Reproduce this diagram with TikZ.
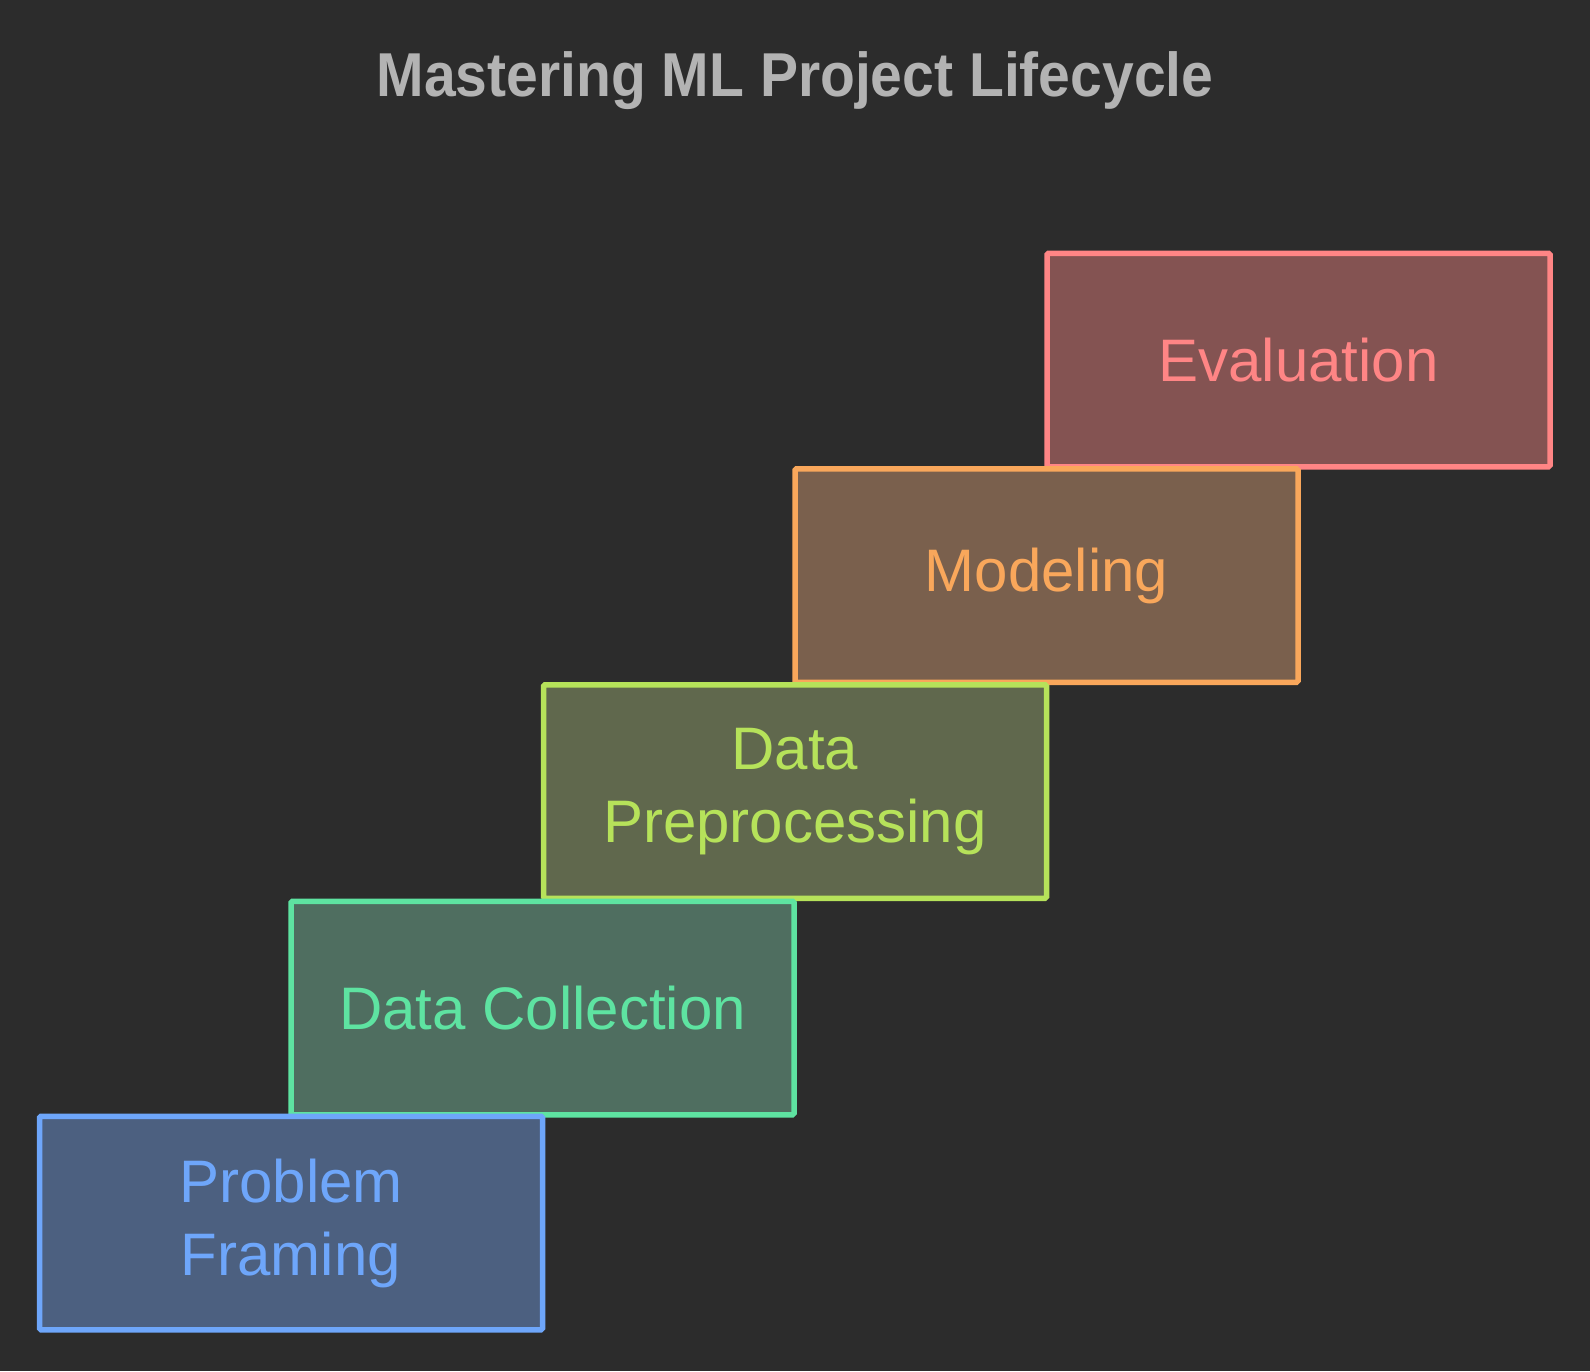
\documentclass[tikz,border=0pt]{standalone}
\usepackage{fontspec}
\setmainfont{Liberation Sans}
\definecolor{bg}{HTML}{2C2C2C}
\definecolor{titlec}{HTML}{B3B3B3}
\definecolor{pfline}{HTML}{6EA6FA}
\definecolor{pffill}{HTML}{4C6080}
\definecolor{dcline}{HTML}{5EE3A1}
\definecolor{dcfill}{HTML}{4F6E60}
\definecolor{dpline}{HTML}{B6E25A}
\definecolor{dpfill}{HTML}{60684D}
\definecolor{mline}{HTML}{F9A75B}
\definecolor{mfill}{HTML}{7A604D}
\definecolor{eline}{HTML}{FF8585}
\definecolor{efill}{HTML}{845352}
\begin{document}
\begin{tikzpicture}[x=1pt,y=-1pt,
  stage/.style={draw, line width=5.5pt, minimum width=503pt, minimum height=213.5pt,
    inner sep=0pt, align=center, font=\fontsize{60}{73}\selectfont, rounded corners=1.5pt}]
\fill[bg] (0,0) rectangle (1590,1371);
\useasboundingbox (0,0) rectangle (1590,1371);
\node[font=\bfseries\fontsize{62}{72}\selectfont, text=titlec, anchor=base] (title) at (795,96)
  {\scalebox{0.92}[1]{Mastering ML Project Lifecycle}};
\node[stage, draw=eline, fill=efill, text=eline] (ev) at (1298.5,360) {Evaluation};
\node[stage, draw=mline, fill=mfill, text=mline] (mo) at (1046.5,575.5) {Modeling};
\node[stage, draw=dpline, fill=dpfill, text=dpline] (dp) at (795,791.5) {Data\\Preprocessing};
\node[stage, draw=dcline, fill=dcfill, text=dcline] (dc) at (542.5,1008) {Data Collection};
\node[stage, draw=pfline, fill=pffill, text=pfline] (pf) at (291,1223) {Problem\\Framing};
\end{tikzpicture}
\end{document}
